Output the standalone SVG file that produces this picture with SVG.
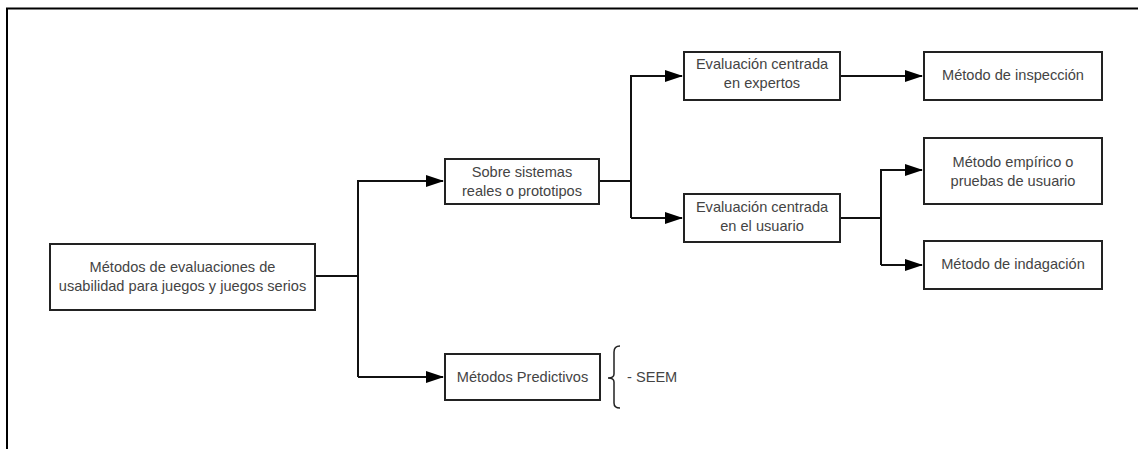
<svg xmlns="http://www.w3.org/2000/svg" width="1138" height="449" viewBox="0 0 1138 449">
<style>
.box{fill:#fff;stroke:#222;stroke-width:2}
.t{font-family:"Liberation Sans",Arial,sans-serif;font-size:14.6px;fill:#444;text-anchor:middle}
.c{fill:none;stroke:#111;stroke-width:2}
</style>
<defs>
<marker id="ah" markerWidth="18" markerHeight="12" refX="17" refY="6" orient="auto" markerUnits="userSpaceOnUse">
<path d="M0,0 L18,6 L0,12 Z" fill="#000"/>
</marker>
</defs>
<rect width="1138" height="449" fill="#fff"/>
<path d="M7,449 V8.5 H1138" fill="none" stroke="#000" stroke-width="2"/>
<g id="connectors">
<path class="c" d="M315,276 H358"/>
<path class="c" d="M358,377 V181 H443" marker-end="url(#ah)"/>
<path class="c" d="M358,377 H443" marker-end="url(#ah)"/>
<path class="c" d="M599,181 H631"/>
<path class="c" d="M631,218 V76 H682" marker-end="url(#ah)"/>
<path class="c" d="M631,218 H682" marker-end="url(#ah)"/>
<path class="c" d="M840,76 H922" marker-end="url(#ah)"/>
<path class="c" d="M840,218 H881"/>
<path class="c" d="M881,265 V170 H922" marker-end="url(#ah)"/>
<path class="c" d="M881,265 H922" marker-end="url(#ah)"/>
</g>
<g id="n-main">
<rect class="box" x="50" y="244" width="265" height="66"/>
<text class="t" x="182.5" y="272">Métodos de evaluaciones de</text>
<text class="t" x="182.5" y="291">usabilidad para juegos y juegos serios</text>
</g>
<g id="n-sobre">
<rect class="box" x="445" y="159" width="154" height="45"/>
<text class="t" x="522" y="177">Sobre sistemas</text>
<text class="t" x="522" y="196">reales o prototipos</text>
</g>
<g id="n-pred">
<rect class="box" x="445" y="354" width="155" height="46"/>
<text class="t" x="522.5" y="382">Métodos Predictivos</text>
</g>
<g id="n-seem">
<path d="M620,346 Q614,346 614,352 V374 Q614,378 608,378 Q614,378 614,382 V403 Q614,408 620,408" fill="none" stroke="#222" stroke-width="1.5"/>
<text class="t" x="627" y="382" style="text-anchor:start">- SEEM</text>
</g>
<g id="n-expertos">
<rect class="box" x="684" y="52" width="156" height="48"/>
<text class="t" x="762" y="69">Evaluación centrada</text>
<text class="t" x="762" y="88">en expertos</text>
</g>
<g id="n-usuario">
<rect class="box" x="684" y="194" width="156" height="48"/>
<text class="t" x="762" y="212">Evaluación centrada</text>
<text class="t" x="762" y="231">en el usuario</text>
</g>
<g id="n-inspeccion">
<rect class="box" x="924" y="52" width="178" height="48"/>
<text class="t" x="1013" y="80">Método de inspección</text>
</g>
<g id="n-empirico">
<rect class="box" x="924" y="138" width="178" height="66"/>
<text class="t" x="1013" y="167">Método empírico o</text>
<text class="t" x="1013" y="186">pruebas de usuario</text>
</g>
<g id="n-indagacion">
<rect class="box" x="924" y="241" width="178" height="48"/>
<text class="t" x="1013" y="269">Método de indagación</text>
</g>
</svg>
